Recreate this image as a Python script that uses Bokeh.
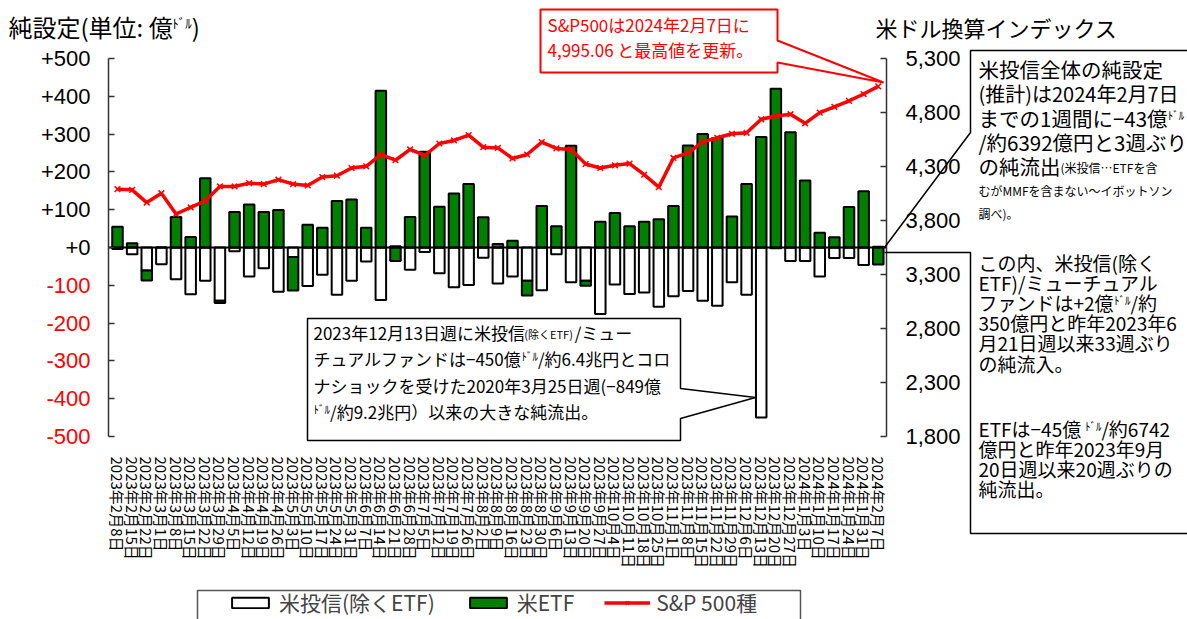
import numpy as np
from bokeh.plotting import figure
from bokeh.models import (Range1d, LinearAxis, FixedTicker, NumeralTickFormatter, Label,
                          PolyAnnotation, Legend, LegendItem, ColumnDataSource)
from bokeh.embed import file_html
from bokeh.resources import INLINE

# ---------------- data ----------------
weeks = ["2023年2月8日", "2023年2月15日", "2023年2月22日", "2023年3月1日", "2023年3月8日",
         "2023年3月15日", "2023年3月22日", "2023年3月29日", "2023年4月5日", "2023年4月12日",
         "2023年4月19日", "2023年4月26日", "2023年5月3日", "2023年5月10日", "2023年5月17日",
         "2023年5月24日", "2023年5月31日", "2023年6月7日", "2023年6月14日", "2023年6月21日",
         "2023年6月28日", "2023年7月5日", "2023年7月12日", "2023年7月19日", "2023年7月26日",
         "2023年8月2日", "2023年8月9日", "2023年8月16日", "2023年8月23日", "2023年8月30日",
         "2023年9月6日", "2023年9月13日", "2023年9月20日", "2023年9月27日", "2023年10月4日",
         "2023年10月11日", "2023年10月18日", "2023年10月25日", "2023年11月1日", "2023年11月8日",
         "2023年11月15日", "2023年11月22日", "2023年11月29日", "2023年12月6日", "2023年12月13日",
         "2023年12月20日", "2023年12月27日", "2024年1月3日", "2024年1月10日", "2024年1月17日",
         "2024年1月24日", "2024年1月31日", "2024年2月7日"]

mutual_funds = [-4, -18, -61, -44, -84, -124, -88, -141, -10, -77,
                -55, -117, -25, -102, -72, -125, -88, -37, -139, 3,
                -59, -12, -68, -105, -99, -27, -95, -77, -88, -113,
                -18, -92, -88, -176, -98, -123, -119, -157, -129, -115,
                -141, -154, -92, -125, -450, -2, -36, -36, -77, -28,
                -28, -46, 2]

etfs = [55, 11, -26, 0, 81, 28, 183, -6, 94, 114,
        94, 99, -89, 60, 52, 123, 127, 52, 415, -36,
        81, 253, 108, 143, 168, 80, 9, 18, -39, 110,
        56, 269, -13, 68, 91, 56, 68, 75, 110, 270,
        300, 290, 82, 168, 292, 420, 305, 177, 39, 27,
        107, 149, -45]

sp500 = [4090, 4084, 3966, 4053, 3860, 3922, 3982, 4115, 4115, 4146,
         4137, 4178, 4137, 4124, 4202, 4215, 4286, 4302, 4411, 4358,
         4458, 4402, 4513, 4541, 4591, 4479, 4472, 4374, 4411, 4526,
         4467, 4458, 4323, 4286, 4311, 4327, 4224, 4109, 4379, 4426,
         4528, 4566, 4603, 4612, 4737, 4768, 4784, 4700, 4799, 4852,
         4908, 4971, 5042]

left_ticks = [500, 400, 300, 200, 100, 0, -100, -200, -300, -400, -500]
right_ticks = [1800, 2300, 2800, 3300, 3800, 4300, 4800, 5300]

JP = "Noto Sans CJK JP"
NUM = "Liberation Sans"

# ---------------- layout geometry (pixels) ----------------
W, H = 1187, 619
PLOT_L, PLOT_R, PLOT_T, PLOT_B = 108, 886, 58, 436
BAR0_PX, BAR_STEP = 117, 14.63
LMIN, LMAX = left_ticks[-1], left_ticks[0]
RMIN, RMAX = right_ticks[0], right_ticks[-1]
sy_l = (PLOT_B - PLOT_T) / (LMAX - LMIN)
sy_r = (PLOT_B - PLOT_T) / (RMAX - RMIN)


def px_to_x(px):
    return (px - BAR0_PX) / BAR_STEP


# ---------------- derived table ----------------
n = len(weeks)
x = np.arange(n)
mf = np.array(mutual_funds, dtype=float)
etf = np.array(etfs, dtype=float)
etf_base = np.where(etf >= 0, np.maximum(mf, 0), np.minimum(mf, 0))
src = ColumnDataSource(dict(x=x, mf_top=mf, mf_bottom=np.zeros(n),
                            etf_bottom=etf_base, etf_top=etf_base + etf,
                            sp=np.array(sp500, dtype=float)))

# ---------------- figure (frame = whole canvas, axes at fixed locations) ----------------
p = figure(width=W, height=H, output_backend="svg", toolbar_location=None,
           x_range=Range1d(px_to_x(0), px_to_x(W)),
           y_range=Range1d(LMIN - (H - PLOT_B) / sy_l, LMAX + PLOT_T / sy_l),
           min_border=0, x_axis_type=None, y_axis_type=None)
p.extra_y_ranges = {"sp": Range1d(RMIN - (H - PLOT_B) / sy_r, RMAX + PLOT_T / sy_r)}
p.title.visible = False
p.xgrid.visible = False
p.ygrid.visible = False
p.outline_line_color = None
p.background_fill_color = "white"
p.border_fill_color = "white"

XL, XR = px_to_x(PLOT_L), px_to_x(PLOT_R)

# bottom axis: date labels
xax = LinearAxis(fixed_location=LMIN, ticker=FixedTicker(ticks=list(range(n))))
xax.major_label_overrides = {i: w for i, w in enumerate(weeks)}
xax.major_label_orientation = "vertical"
xax.major_label_text_font = JP
xax.major_label_text_font_size = "15px"
xax.major_label_text_color = "black"
xax.major_label_standoff = 14
xax.axis_line_color = None
xax.major_tick_line_color = None
xax.minor_tick_line_color = None
p.add_layout(xax, "below")

# left axis
yax = LinearAxis(fixed_location=XL, bounds=(LMIN, LMAX), ticker=FixedTicker(ticks=left_ticks))
yax.major_label_overrides = {t: (("+%d" % t) if t >= 0 else "") for t in left_ticks}
yax.major_label_text_font = NUM
yax.major_label_text_font_size = "22px"
yax.major_label_text_color = "black"
yax.major_label_standoff = 18
yax.major_tick_in = 6
yax.major_tick_out = 0
yax.minor_tick_line_color = None
yax.axis_line_color = "#333333"
yax.axis_line_width = 1.5
yax.major_tick_line_color = "#333333"
yax.major_tick_line_width = 1.5
p.add_layout(yax, "left")

# right axis
ax2 = LinearAxis(y_range_name="sp", fixed_location=XR, bounds=(RMIN, RMAX),
                 ticker=FixedTicker(ticks=right_ticks), formatter=NumeralTickFormatter(format="0,0"))
ax2.major_label_text_font = NUM
ax2.major_label_text_font_size = "22px"
ax2.major_label_text_color = "black"
ax2.major_label_standoff = 19
ax2.major_tick_in = 6
ax2.major_tick_out = 0
ax2.minor_tick_line_color = None
ax2.axis_line_color = "#333333"
ax2.axis_line_width = 1.5
ax2.major_tick_line_color = "#333333"
ax2.major_tick_line_width = 1.5
p.add_layout(ax2, "right")

# negative tick labels in red
for t in left_ticks:
    if t < 0:
        p.add_layout(Label(x=PLOT_L - 18, y=t, x_units="screen", y_units="data", text="%d" % t,
                           text_font=NUM, text_font_size="22px", text_color="#FF0000",
                           text_align="right", text_baseline="middle"))

# bars
r_mf = p.vbar(x="x", top="mf_top", bottom="mf_bottom", width=0.72, source=src,
              fill_color="white", line_color="black", line_width=2)
r_etf = p.vbar(x="x", top="etf_top", bottom="etf_bottom", width=0.72, source=src,
               fill_color="#008000", line_color="black", line_width=2)
p.segment(x0=[XL], y0=[0], x1=[XR], y1=[0], line_color="black", line_width=2)

# S&P line
r_line = p.line(x="x", y="sp", source=src, y_range_name="sp", line_color="#FF0000", line_width=3.5)
r_pts = p.scatter(x="x", y="sp", source=src, y_range_name="sp", marker="x", size=8,
                  line_color="#FF0000", line_width=1.5)


# ---------------- annotation helpers (page pixel coords, y down) ----------------
def poly(xs, ys, line_color="black", line_width=1.5, fill_color=None, fill_alpha=0.0):
    p.add_layout(PolyAnnotation(xs=list(xs), ys=[H - v for v in ys],
                                xs_units="screen", ys_units="screen",
                                line_color=line_color, line_width=line_width, line_alpha=1.0,
                                fill_color=fill_color, fill_alpha=fill_alpha))


def tw(s, size):
    w = 0.0
    for ch in s:
        o = ord(ch)
        if ch.isdigit():
            w += 0.55
        elif ch in "()":
            w += 0.33
        elif ch in ",.:":
            w += 0.27
        elif ch == " ":
            w += 0.22
        elif ch == "/":
            w += 0.38
        elif ch in "+−":
            w += 0.58
        elif ch == "&":
            w += 0.68
        elif "A" <= ch <= "Z":
            w += 0.64
        elif o < 128:
            w += 0.5
        elif 0xFF61 <= o <= 0xFF9F:
            w += 0.5
        else:
            w += 1.0
    return w * size


def seg(x0, yc, parts, color="black"):
    xx = x0
    for part in parts:
        text, size = part[0], part[1]
        dy = part[2] if len(part) > 2 else 0
        p.add_layout(Label(x=xx, y=H - (yc + dy), x_units="screen", y_units="screen",
                           text=text, text_font=JP, text_font_size="%gpx" % size,
                           text_color=color, text_align="left", text_baseline="middle"))
        xx += tw(text, size)


# titles
seg(8, 26, [("純設定(単位: 億", 24), ("ﾄﾞﾙ", 13, -4), (")", 24)])
seg(875, 26, [("米ドル換算インデックス", 22)])

# red callout
poly([540, 777, 777, 883, 777, 777, 540], [9, 9, 40, 82, 62, 72, 72],
     line_color="#FF0000", line_width=2, fill_color="white", fill_alpha=1.0)
seg(547, 24, [("S&P500は2024年2月7日に", 17)], color="#FF0000")
seg(547, 49, [("4,995.06 と最高値を更新。", 17)], color="#FF0000")

# right callout 1
poly([1190, 970, 970, 884, 970, 970], [50, 50, 132, 247, 132, 50])
seg(978, 68, [("米投信全体の純設定", 20.5)])
seg(978, 93, [("(推計)は2024年2月7日", 20)])
seg(978, 117, [("までの1週間に−43億", 20.5), ("ﾄﾞﾙ", 11, -3)])
seg(978, 141, [("/約6392億円と3週ぶり", 20.5)])
seg(978, 165, [("の純流出", 20.5), ("(米投信…ETFを含", 12, 2)])
seg(978, 190, [("むがMMFを含まない～イボットソン", 12)])
seg(978, 213, [("調べ)。", 12)])

# right callout 2
poly([884, 970, 970, 1190, 970, 970], [252, 252, 533, 533, 533, 252])
seg(978, 262, [("この内、米投信(除く", 19)])
seg(978, 282, [("ETF)/ミューチュアル", 19)])
seg(978, 302, [("ファンドは+2億", 19), ("ﾄﾞﾙ", 11, -3), ("/約", 19)])
seg(978, 322, [("350億円と昨年2023年6", 19)])
seg(978, 342, [("月21日週以来33週ぶり", 19)])
seg(978, 363, [("の純流入。", 19)])
seg(978, 428, [("ETFは−45億", 19), ("ﾄﾞﾙ", 11, -3), ("/約6742", 19)])
seg(978, 448, [("億円と昨年2023年9月", 19)])
seg(978, 468, [("20日週以来20週ぶりの", 19)])
seg(978, 488, [("純流出。", 19)])

# middle callout
poly([307, 680, 680, 755, 680, 680, 307], [318, 318, 388, 397, 418, 440, 440],
     line_color="black", line_width=1.5, fill_color="white", fill_alpha=1.0)
seg(313, 332, [("2023年12月13日週に米投信", 17), ("(除くETF)", 11, 1), ("/ミュー", 17)])
seg(313, 358, [("チュアルファンドは−450億", 17), ("ﾄﾞﾙ", 11, -3), ("/約6.4兆円とコロ", 17)])
seg(313, 385, [("ナショックを受けた2020年3月25日週(−849億", 17)])
seg(313, 411, [("ﾄﾞﾙ", 11, -3), ("/約9.2兆円）以来の大きな純流出。", 17)])

# legend frame + legend
poly([197, 800, 800, 197], [590, 590, 660, 660], line_color="#555555", line_width=1.5)
legend = Legend(items=[LegendItem(label="米投信(除くETF)", renderers=[r_mf]),
                       LegendItem(label="米ETF", renderers=[r_etf]),
                       LegendItem(label="S&P 500種", renderers=[r_line, r_pts])],
                orientation="horizontal", location=(227, H - 617),
                label_text_font=JP, label_text_font_size="21px",
                glyph_width=46, glyph_height=13, spacing=30, padding=4, margin=0,
                label_standoff=6, border_line_color=None, background_fill_alpha=0.0)
p.add_layout(legend, "center")

open("out.html", "w").write(file_html(p, INLINE))
